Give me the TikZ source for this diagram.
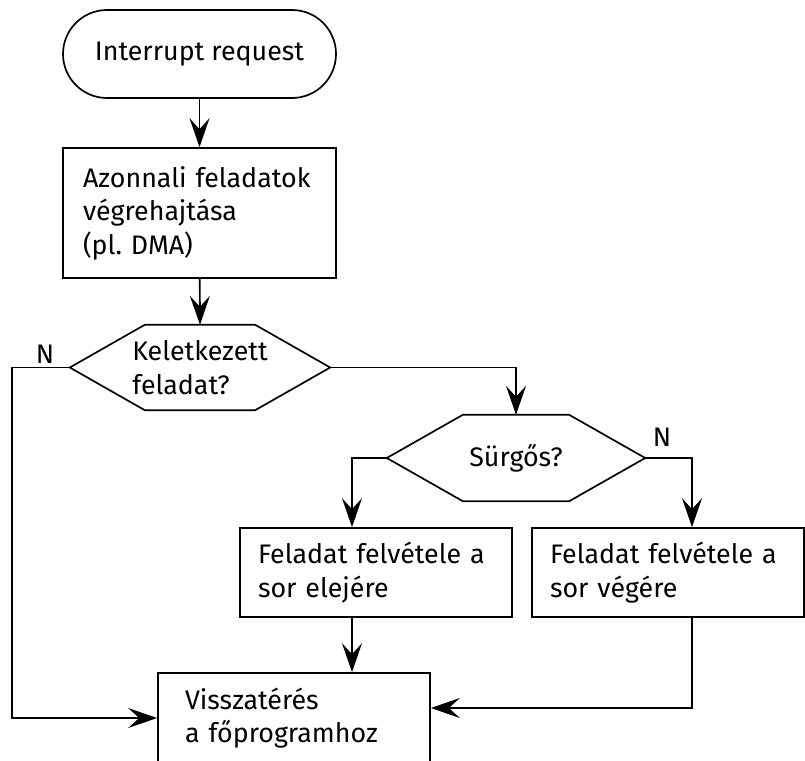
\documentclass[tikz,border=0pt]{standalone}
\usepackage{fontspec}
\setmainfont{Fira Sans}
\usetikzlibrary{arrows.meta,calc,positioning}

% flat-topped hexagon drawn around a (borderless) node
\newcommand{\hexshape}[2]{\draw[line width=1.7pt] ($(#1.north west)+(#2,0)$) -- ($(#1.north east)+(-#2,0)$) -- (#1.east) -- ($(#1.south east)+(-#2,0)$) -- ($(#1.south west)+(#2,0)$) -- (#1.west) -- cycle;}

\begin{document}
\begin{tikzpicture}[x=1pt, y=-1pt,
    font=\fontsize{26.8}{33.5}\selectfont,
    procbox/.style={draw, line width=1.7pt, align=left, inner ysep=0pt},
    decision/.style={align=left, inner sep=0pt},
    arr/.style={-{Stealth[length=29pt, width=20pt, inset=11pt]}, line width=1.7pt}]
        \useasboundingbox (0,0) rectangle (805,760);
        % Flowchart nodes
        \node[draw, line width=1.7pt, rounded corners=44pt, minimum width=273pt, minimum height=88pt] (start) at (199.5,54) {Interrupt request};
        \node[procbox, text width=233pt, inner xsep=20pt, minimum height=130pt] (azonnali) at (199.5,213) {Azonnali feladatok\\végrehajtása\\(pl.\ DMA)};
        \node[decision, minimum width=260pt, minimum height=85pt] (keletk) at (200,367.5) {Keletkezett\\feladat?};
        \hexshape{keletk}{75}
        \node[decision, minimum width=258pt, minimum height=86pt] (surgos) at (516,458) {Sürgős?};
        \hexshape{surgos}{76}
        \node[procbox, text width=236pt, inner xsep=18pt, minimum height=89pt] (elejere) at (376,572.5) {Feladat felvétele a\\sor elejére};
        \node[procbox, text width=236pt, inner xsep=18pt, minimum height=89pt] (vegere) at (668,572.5) {Feladat felvétele a\\sor végére};
        \node[procbox, text width=218pt, inner xsep=27pt, minimum height=90pt] (vissza) at (294,718) {Visszatérés\\a főprogramhoz};
        \node (nkelet) at (45,354) {N};
        \node (nsurgos) at (662,437) {N};

        \draw[arr] (start) -- (azonnali);
        \draw[arr] (azonnali) -- (keletk.north);
        \draw[arr] (keletk.east) -| (surgos.north);
        \draw[arr] (keletk.west) -- ++(-58,0) |- (vissza.west);
        \draw[arr] (surgos.west) -| ([xshift=-24pt]elejere.north);
        \draw[arr] (surgos.east) -| ([xshift=24pt]vegere.north);
        \draw[arr] ([xshift=-24pt]elejere.south) -- ([xshift=-24pt]elejere.south |- vissza.north);
        \draw[arr] ([xshift=24pt]vegere.south) |- ([yshift=10pt]vissza.east);
    \end{tikzpicture}
\end{document}
